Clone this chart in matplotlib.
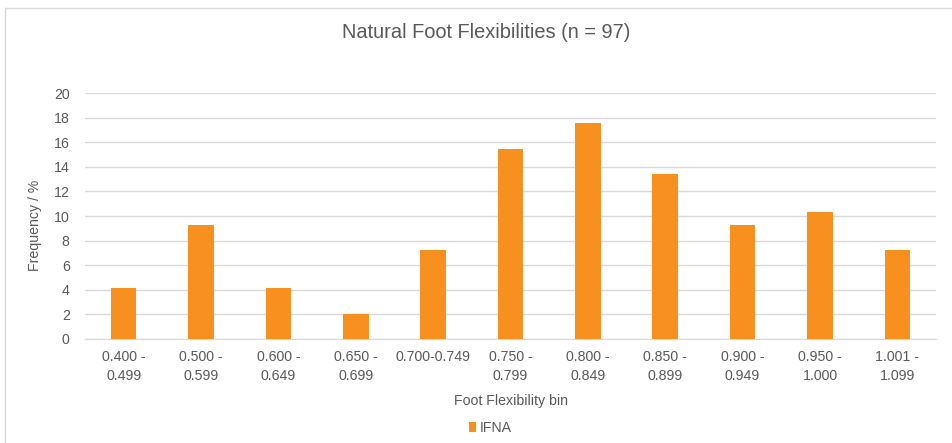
import matplotlib
matplotlib.use("Agg")
import matplotlib.pyplot as plt
from matplotlib.patches import Rectangle

categories = ["0.400 -\n0.499", "0.500 -\n0.599", "0.600 -\n0.649", "0.650 -\n0.699",
              "0.700-0.749\n", "0.750 -\n0.799", "0.800 -\n0.849", "0.850 -\n0.899",
              "0.900 -\n0.949", "0.950 -\n1.000", "1.001 -\n1.099"]
values = [4.12, 9.28, 4.12, 2.06, 7.22, 15.46, 17.53, 13.40, 9.28, 10.31, 7.22]
series_name = "IFNA"
yticks = [0, 2, 4, 6, 8, 10, 12, 14, 16, 18, 20]

plt.rcParams['font.family'] = ['Liberation Sans', 'DejaVu Sans']
txt = "#595959"
bar_color = "#F7901E"
fs = 10.2

fig = plt.figure(figsize=(9.52, 4.43), dpi=100)
fig.patches.append(Rectangle((5/952, -0.1), 1.2, 1 - 8/443 + 0.1, transform=fig.transFigure,
                             fill=False, edgecolor="#d9d9d9", linewidth=1))
ax = fig.add_axes([85/952, 1 - 339/443, (936 - 85)/952, (339 - 93)/443])

x = list(range(len(categories)))
ax.bar(x, values, width=0.33, color=bar_color, label=series_name, zorder=3)
ax.set_xlim(-0.5, len(categories) - 0.5)
ax.set_ylim(0, 20)
ax.set_yticks(yticks)
ax.set_xticks(x)
ax.set_xticklabels(categories, fontsize=fs, color=txt, linespacing=1.4)
ax.tick_params(axis='y', labelsize=fs, colors=txt, length=0, pad=11)
ax.tick_params(axis='x', length=0, pad=8)
ax.grid(axis='y', color="#d9d9d9", linewidth=1, zorder=0)
for s in ["top", "right", "left"]:
    ax.spines[s].set_visible(False)
ax.spines["bottom"].set_color("#d9d9d9")
ax.set_ylabel("Frequency / %", fontsize=fs, color=txt)
ax.yaxis.set_label_coords(-(85 - 35) / 851, (339 - 225) / 246)
ax.set_xlabel("Foot Flexibility bin", fontsize=fs, color=txt)
ax.xaxis.set_label_coords(0.5, -(401 - 339) / 246)
ax.xaxis.label.set_va("center")
ax.yaxis.label.set_va("center")
fig.text(486/952, 1 - 32/443, "Natural Foot Flexibilities (n = 97)", ha="center", va="center",
         fontsize=14.4, color=txt)
leg = fig.legend(loc="center", bbox_to_anchor=(490/952, 1 - 428/443), frameon=False,
                 fontsize=fs, handlelength=0.55, handleheight=0.75, handletextpad=0.2)
for t in leg.get_texts():
    t.set_color(txt)

fig.savefig("out.png", dpi=100)
